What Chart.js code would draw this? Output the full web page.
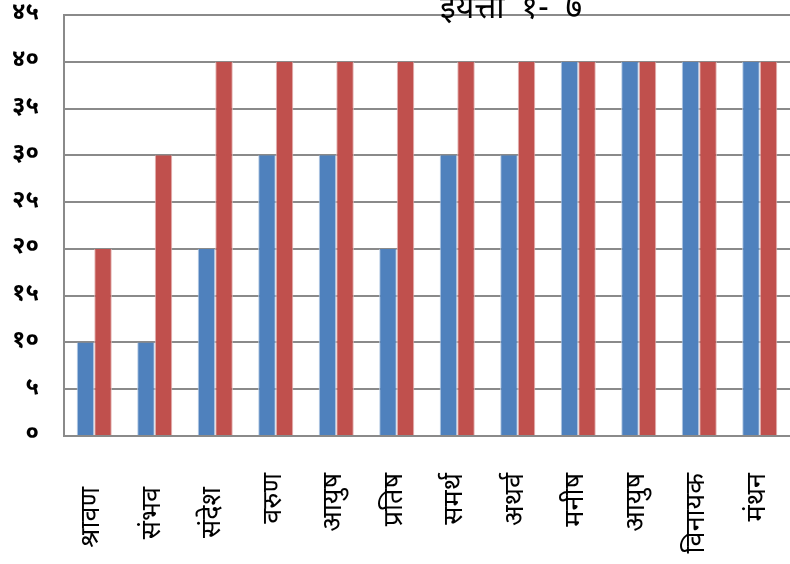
<!DOCTYPE html>
<html>
<head>
<meta charset="utf-8">
<script src="https://cdn.jsdelivr.net/npm/chart.js@4"></script>
<style>
  html, body { margin: 0; padding: 0; background: #fff; }
  #wrap { width: 790px; height: 564px; }
</style>
</head>
<body>
<div id="wrap"><canvas id="myChart" width="790" height="564"></canvas></div>
<script>
// first three names carry trailing spaces in the source sheet
const categories = ['श्रावण  ', 'संभव  ', 'संदेश  ', 'वरुण', 'आयुष', 'प्रतिष', 'समर्थ', 'अथर्व', 'मनीष', 'आयुष', 'विनायक', 'मंथन'];
const seriesBlue = [10, 10, 20, 30, 30, 20, 30, 30, 40, 40, 40, 40];
const seriesRed = [20, 30, 40, 40, 40, 40, 40, 40, 40, 40, 40, 40];
const yTickLabels = ['०', '५', '१०', '१५', '२०', '२५', '३०', '३५', '४०', '४५'];
const chartTitle = 'इयत्ता  १-  ७';

const devFont = '"Noto Sans Devanagari", "Noto Sans", "Lohit Devanagari", sans-serif';

// title sits over the top gridline, like the original
const titlePlugin = {
    id: 'overTitle',
    afterDraw(chart) {
        const ctx = chart.ctx;
        ctx.save();
        ctx.font = '32px ' + devFont;
        ctx.fillStyle = '#000';
        ctx.textAlign = 'center';
        ctx.textBaseline = 'middle';
        ctx.fillText(chartTitle, 511, 12);
        ctx.restore();
    }
};

const ctx = document.getElementById('myChart').getContext('2d');
const myChart = new Chart(ctx, {
    type: 'bar',
    data: {
        labels: categories,
        datasets: [
            {
                label: 'A',
                data: seriesBlue,
                backgroundColor: '#4F81BD',
                borderColor: '#B9CDE5',
                borderWidth: { left: 1, right: 1, top: 0, bottom: 0 },
                categoryPercentage: 0.58,
                barPercentage: 1.0
            },
            {
                label: 'B',
                data: seriesRed,
                backgroundColor: '#C0504D',
                borderColor: '#E6B9B8',
                borderWidth: { left: 1, right: 1, top: 0, bottom: 0 },
                categoryPercentage: 0.58,
                barPercentage: 1.0
            }
        ]
    },
    options: {
        responsive: false,
        animation: false,
        layout: { padding: { top: 15, right: 0, left: 0, bottom: 0 } },
        plugins: {
            legend: { display: false },
            title: { display: false },
            tooltip: { enabled: false }
        },
        scales: {
            x: {
                grid: { display: false, drawTicks: false },
                border: { color: '#8a8a8a', width: 2 },
                ticks: {
                    minRotation: 90,
                    maxRotation: 90,
                    padding: 37,
                    color: '#000',
                    font: { family: devFont, size: 27 }
                },
                afterFit(axis) {
                    axis.height = 128;
                    axis.paddingLeft = 0;
                    axis.paddingRight = 0;
                }
            },
            y: {
                min: 0,
                max: 45,
                grid: { color: '#8a8a8a', lineWidth: 2, drawTicks: false },
                border: { color: '#8a8a8a', width: 2 },
                ticks: {
                    stepSize: 5,
                    padding: 25,
                    color: '#000',
                    font: { family: devFont, size: 24, weight: 'bold' },
                    callback: function(value) {
                        return yTickLabels[Math.round(value / 5)];
                    }
                },
                afterFit(axis) {
                    axis.width = 64;
                    axis.paddingTop = 0;
                    axis.paddingBottom = 0;
                }
            }
        }
    },
    plugins: [titlePlugin]
});
</script>
</body>
</html>
